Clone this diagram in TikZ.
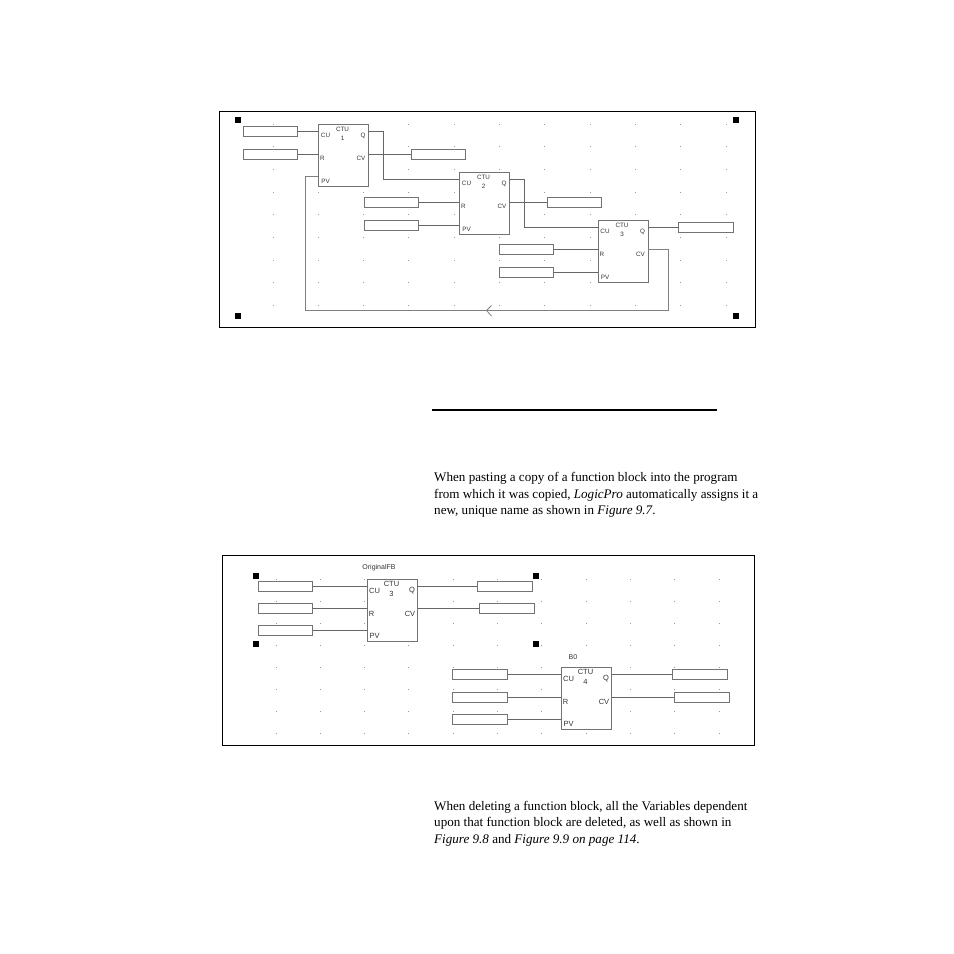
\documentclass[tikz,border=0pt]{standalone}
\usepackage{fontspec}
\setmainfont{Liberation Serif}
\setsansfont{Liberation Sans}
\begin{document}
\begin{tikzpicture}[x=1pt,y=-1pt,line join=miter,line cap=butt]
    \tikzset{
        frame/.style={draw=black,line width=1pt},
        griddot/.style={fill=black!40},
        handle/.style={fill=black,minimum size=5.5pt,inner sep=0pt},
        varbox/.style={draw=black!55,fill=white,line width=1.4pt,minimum width=54.5pt,minimum height=10pt,inner sep=0pt},
        fblock/.style={draw=black!55,fill=white,line width=1.4pt,anchor=north west,minimum width=50pt,minimum height=62pt,inner sep=0pt},
        wire/.style={draw=black!60,line width=1.1pt},
        feedback/.style={draw=black!50,line width=1.5pt},
        smalltext/.style={font=\sffamily\fontsize{6.3pt}{7pt}\selectfont,text=black!80,inner sep=0pt},
        largetext/.style={font=\sffamily\fontsize{7.5pt}{8pt}\selectfont,text=black!80,inner sep=0pt},
        nametext/.style={font=\sffamily\fontsize{7pt}{8pt}\selectfont,text=black!80,inner sep=0pt},
        para/.style={font=\fontsize{13.1pt}{16.4pt}\selectfont,align=left,anchor=north west,inner sep=0pt}
    }
    \useasboundingbox (0,0) rectangle (954,954);
    \fill[white] (0,0) rectangle (954,954);
    \draw[frame] (219,111) rectangle (755,327);
    \draw[frame] (222,555) rectangle (754,745);
    \foreach \i in {0,...,10}
    \foreach \j in {0,...,8}
    \fill[griddot] ({273+45.3*\i-.5},{124+22.7*\j-.5}) rectangle ++(1,1);
    \foreach \i in {0,...,10}
    \foreach \j in {0,...,7}
    \fill[griddot] ({276+44.3*\i-.5},{579+22.1*\j-.5}) rectangle ++(1,1);
    \foreach \h/\x/\y in {ha/238/120,hb/736/120,hc/238/316,hd/736/316,he/256/576,hf/536/576,hg/256/644,hh/536/644}
    \node[handle] (\h) at (\x,\y) {};
    \foreach \b/\x/\y/\n/\s in {a/318/124/1/smalltext,b/459/172/2/smalltext,c/597.5/220/3/smalltext,d/367/579/3/largetext,e/561/667/4/largetext}{
        \node[fblock] (\b) at (\x,\y) {};
        \node[\s] (ctu\b) at (\x+24.5,\y+5) {CTU};
        \node[\s] (num\b) at (\x+24.5,\y+14.5) {\n};
        \node[\s] (lcu\b) at (\x+7.5,\y+11.5) {CU};
        \node[\s] (lr\b) at (\x+4.5,\y+34.5) {R};
        \node[\s] (lpv\b) at (\x+7.5,\y+57) {PV};
        \node[\s] (lq\b) at (\x+45,\y+11.5) {Q};
        \node[\s] (lcv\b) at (\x+43,\y+34.5) {CV};
        \coordinate (cu\b) at (\x,\y+7.5);
        \coordinate (pv\b) at (\x,\y+52.5);
        \coordinate (q\b) at (\x+50,\y+7.5);
        \coordinate (cv\b) at (\x+50,\y+29.5);
    }
    \foreach \v/\x/\y in {aa/270.5/131.5,ab/270.5/154.5,ac/438.5/154.5,ba/391.5/202.5,bb/391.5/225.5,bc/574.5/202.5,ca/526.5/249.5,cb/526.5/272.5,cc/706/227.5,da/285.5/586.5,db/285.5/608.5,dc/285.5/630.5,dd/505/586.5,de/507/608.5,ea/480/674.5,eb/480/697.5,ec/480/719.5,ed/700/674.5,ee/702/697.5}
    \node[varbox] (v\v) at (\x,\y) {};
    \node[nametext] (namea) at (379,568) {OriginalFB};
    \node[nametext] (nameb) at (573,657) {B0};

    \draw[wire] (vaa.east) -- (vaa.east -| a.west);
    \draw[wire] (vab.east) -- (vab.east -| a.west);
    \draw[wire] (vac.west) -- (vac.west -| a.east);
    \draw[wire] (qa) -- ++(15.5,0) |- (cub);
    \draw[wire] (vba.east) -- (vba.east -| b.west);
    \draw[wire] (vbb.east) -- (vbb.east -| b.west);
    \draw[wire] (vbc.west) -- (vbc.west -| b.east);
    \draw[wire] (qb) -- ++(15.5,0) |- (cuc);
    \draw[wire] (vca.east) -- (vca.east -| c.west);
    \draw[wire] (vcb.east) -- (vcb.east -| c.west);
    \draw[wire] (vcc.west) -- (vcc.west -| c.east);
    \coordinate (fbr) at (668.5,310.5);
    \coordinate (fbl) at (305.5,310.5);
    \draw[feedback] (cvc) -| (fbr) -- (fbl) |- (pva);
    \draw[black!50,line width=.8pt] (491.5,305.5) -- (486.5,310.5) -- (491.5,316);

    \draw[wire] (vda.east) -- (vda.east -| d.west);
    \draw[wire] (vdb.east) -- (vdb.east -| d.west);
    \draw[wire] (vdc.east) -- (vdc.east -| d.west);
    \draw[wire] (vdd.west) -- (vdd.west -| d.east);
    \draw[wire] (vde.west) -- (vde.west -| d.east);
    \draw[wire] (vea.east) -- (vea.east -| e.west);
    \draw[wire] (veb.east) -- (veb.east -| e.west);
    \draw[wire] (vec.east) -- (vec.east -| e.west);
    \draw[wire] (ved.west) -- (ved.west -| e.east);
    \draw[wire] (vee.west) -- (vee.west -| e.east);

    \draw[black,line width=2pt] (432,410) -- (717,410);
    \node[para] (parta) at (434,472.5) {When pasting a copy of a function block into the program\\from which it was copied, \textit{LogicPro} automatically assigns it a\\new, unique name as shown in \textit{Figure 9.7}.};
    \node[para] (partb) at (434,801) {When deleting a function block, all the Variables dependent\\upon that function block are deleted, as well as shown in\\\textit{Figure 9.8} and \textit{Figure 9.9 on page 114}.};
\end{tikzpicture}
\end{document}
